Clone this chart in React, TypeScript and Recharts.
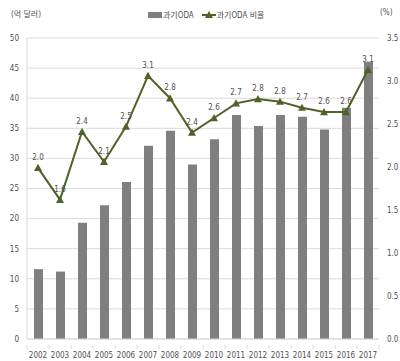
import React from 'react';
import { ComposedChart, Bar, Line, XAxis, YAxis, CartesianGrid, LabelList, Legend } from 'recharts';

const years = ['2002', '2003', '2004', '2005', '2006', '2007', '2008', '2009', '2010', '2011', '2012', '2013', '2014', '2015', '2016', '2017'];
const odaAmount = [11.6, 11.2, 19.3, 22.2, 26.1, 32.1, 34.6, 29.0, 33.2, 37.2, 35.4, 37.2, 36.9, 34.8, 38.4, 46.0];
const odaRatio = [1.99, 1.62, 2.41, 2.06, 2.47, 3.06, 2.8, 2.4, 2.57, 2.74, 2.79, 2.76, 2.69, 2.64, 2.64, 3.13];
const leftTicks = [0, 5, 10, 15, 20, 25, 30, 35, 40, 45, 50];
const rightTicks = [0, 0.5, 1.0, 1.5, 2.0, 2.5, 3.0, 3.5];

const data = years.map((y, i) => ({ year: y, amount: odaAmount[i], ratio: odaRatio[i] }));

const FONT = '"DejaVu Sans Condensed", "Liberation Sans Narrow", "Noto Sans CJK KR", sans-serif';
const LINE_COLOR = '#4f6228';
const BAR_COLOR = '#7f7f7f';
const TEXT_COLOR = '#505050';
const AXIS_COLOR = '#d9d9d9';

const Triangle = (props: any) => {
  const { cx, cy, index } = props;
  if (cx == null || cy == null) return null;
  const s = 4;
  return <path key={index} d={`M${cx},${cy - s} L${cx + s},${cy + s * 0.8} L${cx - s},${cy + s * 0.8} Z`} fill={LINE_COLOR} />;
};

const YearTick = (props: any) => {
  const { x, y, payload, index, visibleTicksCount } = props;
  const half = payload && payload.offset ? payload.offset : 11;
  const axisY = y - 4;
  const isLast = index === (visibleTicksCount ?? years.length) - 1;
  return (
    <g>
      <line x1={x - half} y1={axisY} x2={x - half} y2={axisY + 4} stroke={AXIS_COLOR} />
      {isLast && <line x1={x + half} y1={axisY} x2={x + half} y2={axisY + 4} stroke={AXIS_COLOR} />}
      <text x={x} y={y} dy={9} textAnchor="middle" fontSize={8} fill={TEXT_COLOR} fontFamily={FONT}>{payload.value}</text>
    </g>
  );
};

const LegendContent = () => (
  <div style={{ display: 'flex', alignItems: 'center', fontFamily: FONT, fontSize: 8, color: TEXT_COLOR }}>
    <svg width={14} height={8}><rect x={0} y={1} width={14} height={6} fill={BAR_COLOR} /></svg>
    <span style={{ marginLeft: 1, marginRight: 8 }}>과기ODA</span>
    <svg width={14} height={10}>
      <line x1={0} y1={5} x2={14} y2={5} stroke={LINE_COLOR} strokeWidth={2} />
      <path d="M7,1 L11,8 L3,8 Z" fill={LINE_COLOR} />
    </svg>
    <span style={{ marginLeft: 1 }}>과기ODA 비율</span>
  </div>
);

export default function App() {
  return (
    <div style={{ position: 'absolute', left: 0, top: 0, width: 400, height: 361, background: '#fff' }}>
      <div style={{ position: 'absolute', left: 11, top: 8, fontFamily: FONT, fontSize: 8, color: TEXT_COLOR }}>(억 달러)</div>
      <div style={{ position: 'absolute', left: 380, top: 8, fontFamily: FONT, fontSize: 8, color: TEXT_COLOR }}>(%)</div>
      <ComposedChart width={400} height={361} data={data} margin={{ top: 38, right: 0, bottom: 6, left: 7 }}>
        <Legend verticalAlign="middle" align="center" content={<LegendContent />} wrapperStyle={{ position: 'absolute', top: 9, left: 148, width: 'auto' }} />
        <CartesianGrid yAxisId="left" vertical={false} stroke={AXIS_COLOR} />
        <XAxis dataKey="year" tickLine={false} axisLine={{ stroke: AXIS_COLOR }} tick={<YearTick />} interval={0} height={16} tickMargin={4} />
        <YAxis yAxisId="left" domain={[0, 50]} ticks={leftTicks} width={20} tickLine={false} axisLine={{ stroke: AXIS_COLOR }} tick={{ fontSize: 8, fill: TEXT_COLOR, fontFamily: FONT }} interval={0} />
        <YAxis yAxisId="right" orientation="right" domain={[0, 3.5]} ticks={rightTicks} width={21} tickLine={false} axisLine={false} tick={{ fontSize: 8, fill: TEXT_COLOR, fontFamily: FONT }} tickFormatter={(v: number) => v.toFixed(1)} interval={0} />
        <Bar yAxisId="left" dataKey="amount" fill={BAR_COLOR} barSize={9} isAnimationActive={false} />
        <Line yAxisId="right" dataKey="ratio" stroke={LINE_COLOR} strokeWidth={2} dot={<Triangle />} activeDot={false} isAnimationActive={false}>
          <LabelList dataKey="ratio" position="top" offset={8} formatter={(v: any) => Number(v).toFixed(1)} style={{ fontSize: 8, fill: TEXT_COLOR, fontFamily: FONT }} />
        </Line>
      </ComposedChart>
    </div>
  );
}
